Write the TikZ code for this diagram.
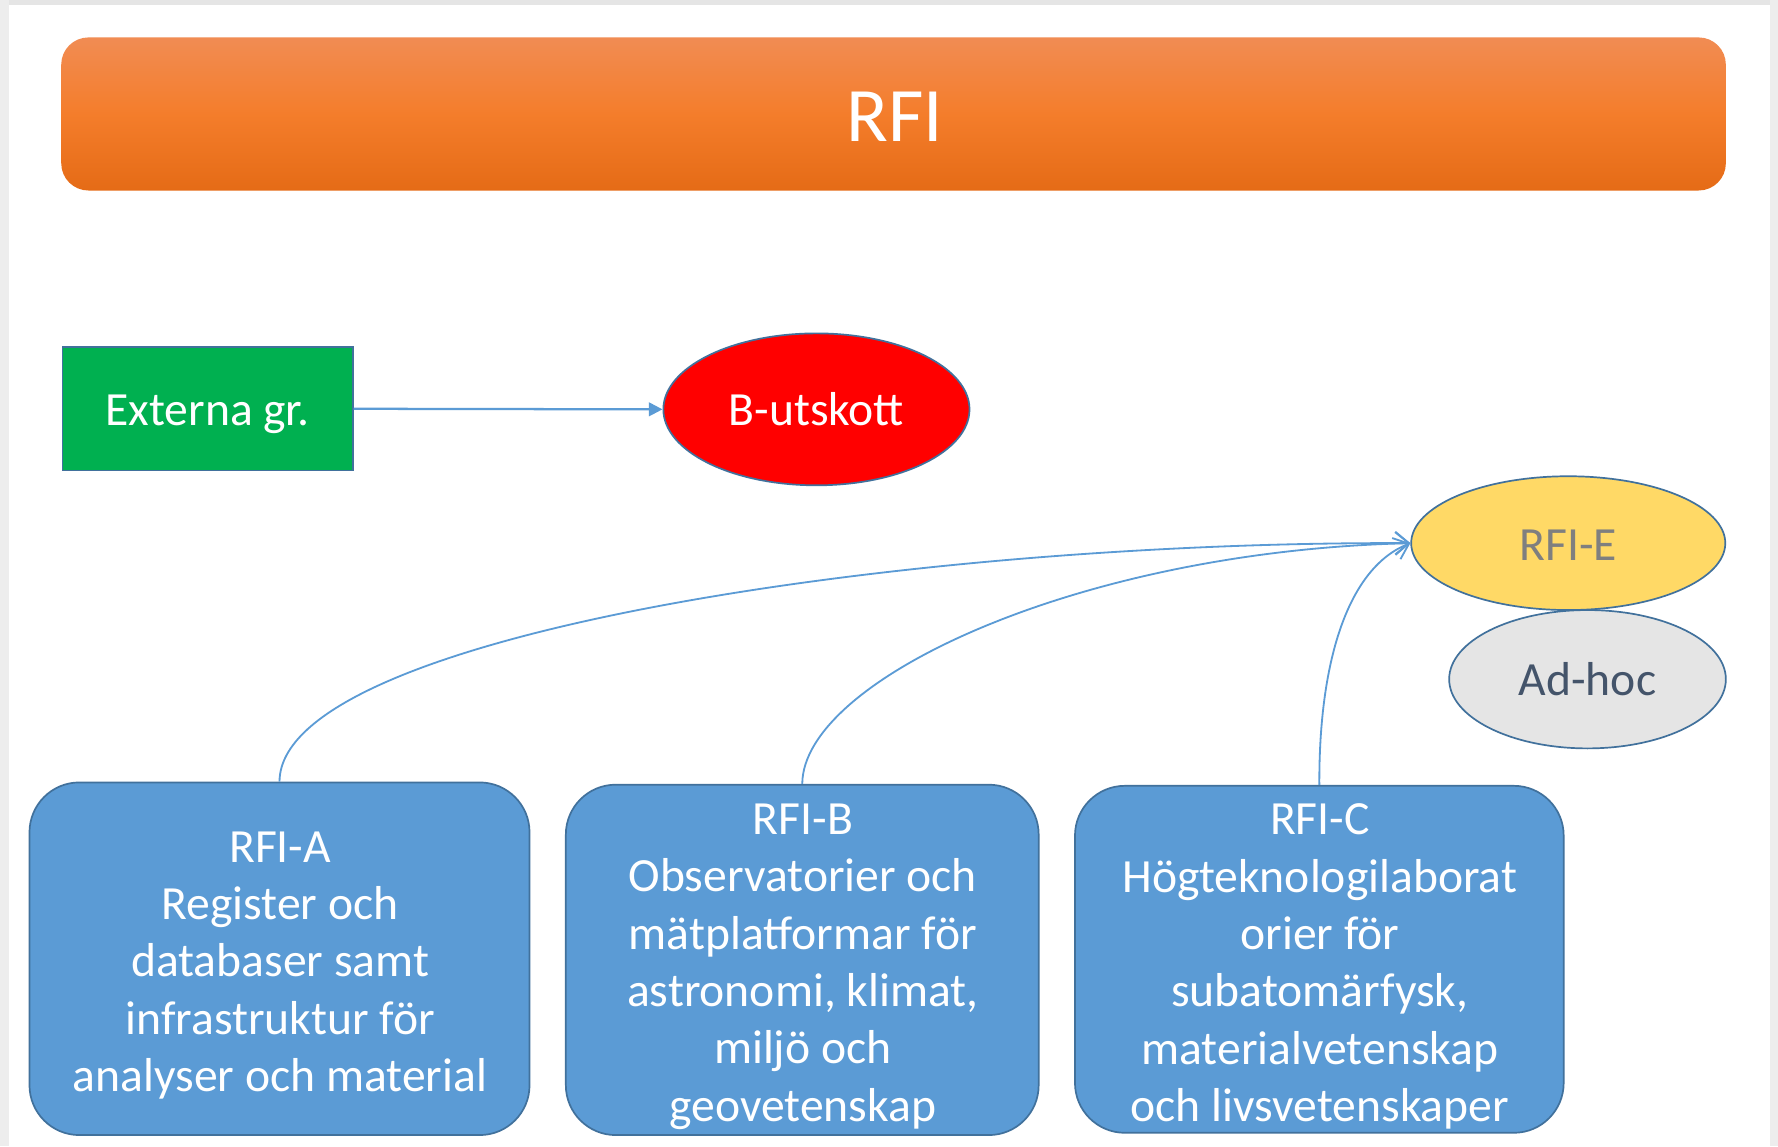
\documentclass[tikz,border=0pt]{standalone}
\usepackage{fontspec}
\setmainfont{Carlito}
\usetikzlibrary{shapes.geometric,arrows.meta}
\definecolor{bord}{HTML}{41719C}
\definecolor{boxblue}{HTML}{5B9BD5}
\definecolor{linkblue}{HTML}{5B9BD5}
\definecolor{grn}{HTML}{00B050}
\definecolor{yel}{HTML}{FFD966}
\definecolor{lgray}{HTML}{E5E5E5}
\definecolor{adtext}{HTML}{44546A}
\definecolor{etext}{HTML}{7F7F7F}
\definecolor{orTop}{HTML}{F18C53}
\definecolor{orMid}{HTML}{F47D2B}
\definecolor{orBot}{HTML}{E56B16}
\tikzset{
  shapeborder/.style={draw=bord, line width=0.75pt},
  txt/.style={font=\fontsize{21}{25.3}\selectfont, align=center, inner sep=0pt},
  bigbox/.style={shapeborder, fill=boxblue, rounded corners=22pt},
  boxtext/.style={txt, text=white},
  oval/.style={ellipse, shapeborder, txt},
  link/.style={draw=linkblue, line width=0.8pt},
}
\begin{document}
\begin{tikzpicture}[x=0.5pt, y=-0.5pt]
\useasboundingbox (0,0) rectangle (1568,1011);
\fill[white] (0,0) rectangle (1568,1011);
% edge strips
\fill[lgray] (0,0) rectangle (1568,4);
\fill[lgray!70] (0,0) rectangle (8,1011);
\fill[lgray!70] (1561,0) rectangle (1568,1011);
% banner
\shade[top color=orTop, bottom color=orBot, middle color=orMid, rounded corners=12pt]
  (54,33) rectangle (1522,168);
\node[text=white, font=\fontsize{34}{40}\selectfont, inner sep=0pt] (rfi) at (789,103) {RFI};
% nodes
\node[shapeborder, fill=grn, minimum width=128pt, minimum height=54.5pt] (ext) at (183,360.5) {};
\node[txt, text=white] (exttext) at (183,365) {Externa gr.};
\node[oval, fill=red, text=white, minimum width=135pt, minimum height=67pt] (butsk) at (720,361) {B-utskott};
\node[oval, fill=yel, minimum width=138.5pt, minimum height=59pt] (rfie) at (1383,479) {};
\node[txt, text=etext] (rfietext) at (1383,481) {RFI-E};
\node[oval, fill=lgray, text=adtext, minimum width=122pt, minimum height=61pt] (adhoc) at (1400,599) {Ad-hoc};
\node[bigbox, minimum width=220.5pt, minimum height=155.5pt] (rfia) at (246.5,845.5) {};
\node[boxtext] (rfiatext) at (247,851.5)
  {RFI-A\\Register och\\databaser samt\\infrastruktur för\\analyser och material};
\node[bigbox, minimum width=208.5pt, minimum height=154.5pt] (rfib) at (707.5,846.5) {};
\node[boxtext] (rfibtext) at (708,852.5)
  {RFI-B\\Observatorier och\\mätplatformar för\\astronomi, klimat,\\miljö och\\geovetenskap};
\node[bigbox, minimum width=215.5pt, minimum height=153pt] (rfic) at (1163.5,846) {};
\node[boxtext] (rfictext) at (1164,852.5)
  {RFI-C\\Högteknologilaborat\\orier för\\subatomärfysk,\\materialvetenskap\\och livsvetenskaper};
% connectors
\draw[link, line width=1pt, -{Triangle[length=6pt, width=6pt]}] (ext.east) -- (butsk.west);
\draw[link, -{Straight Barb[length=6pt, width=10pt]}] (rfia.north) .. controls (247,560) and (800,477) .. (rfie.west);
\draw[link, -{Straight Barb[length=6pt, width=10pt]}] (rfib.north) .. controls (708,600) and (950,486) .. (rfie.west);
\draw[link, -{Straight Barb[length=6pt, width=10pt]}] (rfic.north) .. controls (1163,580) and (1190,500) .. (rfie.west);
\end{tikzpicture}
\end{document}
